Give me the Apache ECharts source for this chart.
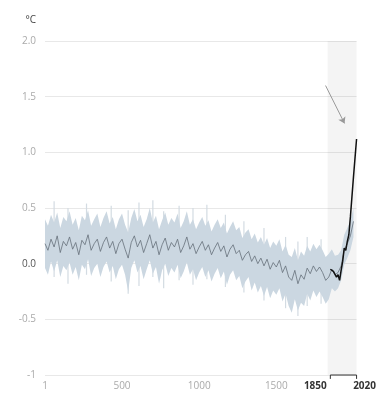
<!DOCTYPE html>
<html><head><meta charset="utf-8">
<script src="https://cdn.jsdelivr.net/npm/echarts@6/dist/echarts.min.js"></script>
<style>html,body{margin:0;padding:0;background:#fff}#c{width:379px;height:397px}</style>
</head><body><div id="c"></div>
<script>
var reconYears = [1,20,40,60,80,100,120,140,160,180,200,220,240,260,280,300,320,340,360,380,400,420,440,460,480,500,520,540,560,580,600,620,640,660,680,700,720,740,760,780,800,820,840,860,880,900,920,940,960,980,1000,1020,1040,1060,1080,1100,1120,1140,1160,1180,1200,1220,1240,1260,1280,1300,1320,1340,1360,1380,1400,1420,1440,1460,1480,1500,1520,1540,1560,1580,1600,1620,1640,1660,1680,1700,1720,1740,1760,1780,1800,1820,1840,1860,1880,1900,1920,1940,1960,1980,2000];
var reconMean = [0.18,0.12,0.22,0.15,0.25,0.10,0.20,0.16,0.24,0.13,0.19,0.08,0.21,0.17,0.26,0.12,0.18,0.22,0.11,0.19,0.24,0.14,0.20,0.09,0.18,0.22,0.13,0.05,0.19,0.25,0.15,0.21,0.10,0.18,0.26,0.14,0.20,0.08,0.17,0.23,0.12,0.19,0.15,0.22,0.10,0.16,0.24,0.13,0.18,0.09,0.15,0.20,0.12,0.17,0.08,0.14,0.19,0.11,0.16,0.06,0.13,0.17,0.09,0.12,0.03,0.08,0.11,0.02,0.07,0.00,0.05,-0.02,0.04,-0.05,0.01,-0.03,0.03,-0.08,-0.02,-0.12,-0.15,-0.06,-0.18,-0.10,-0.14,-0.04,-0.09,-0.02,-0.07,-0.03,-0.08,-0.15,-0.12,-0.05,-0.10,-0.08,-0.02,0.12,0.18,0.25,0.38];
var reconLower = [-0.04,-0.10,0.02,-0.07,0.03,-0.12,-0.02,-0.06,0.01,-0.10,-0.03,-0.15,-0.01,-0.05,0.04,-0.11,-0.04,0.00,-0.12,-0.03,0.02,-0.08,-0.02,-0.14,-0.05,-0.01,-0.10,-0.25,-0.04,0.03,-0.08,-0.02,-0.14,-0.05,0.03,-0.09,-0.03,-0.18,-0.06,0.00,-0.11,-0.04,-0.08,-0.01,-0.13,-0.07,0.01,-0.10,-0.05,-0.15,-0.08,-0.03,-0.12,-0.06,-0.16,-0.09,-0.04,-0.13,-0.07,-0.19,-0.10,-0.06,-0.15,-0.11,-0.22,-0.16,-0.12,-0.24,-0.17,-0.26,-0.20,-0.29,-0.21,-0.31,-0.24,-0.28,-0.22,-0.34,-0.27,-0.38,-0.44,-0.32,-0.42,-0.35,-0.38,-0.27,-0.33,-0.24,-0.30,-0.25,-0.30,-0.36,-0.32,-0.22,-0.25,-0.22,-0.15,-0.01,0.05,0.12,0.24];
var reconUpper = [0.40,0.34,0.44,0.37,0.46,0.32,0.42,0.38,0.47,0.35,0.41,0.30,0.43,0.39,0.48,0.34,0.40,0.45,0.33,0.41,0.47,0.36,0.42,0.31,0.40,0.45,0.35,0.28,0.41,0.49,0.38,0.44,0.33,0.40,0.50,0.37,0.43,0.31,0.39,0.46,0.35,0.41,0.37,0.45,0.32,0.38,0.47,0.35,0.40,0.31,0.37,0.42,0.34,0.39,0.29,0.35,0.40,0.32,0.37,0.27,0.33,0.38,0.30,0.33,0.23,0.28,0.31,0.22,0.27,0.19,0.24,0.17,0.23,0.14,0.20,0.16,0.22,0.11,0.17,0.08,0.06,0.14,0.03,0.11,0.07,0.16,0.11,0.18,0.13,0.17,0.12,0.06,0.09,0.13,0.07,0.08,0.12,0.26,0.32,0.39,0.50];
var spikeYears = [60,150,270,430,540,610,700,770,870,960,1050,1170,1290,1420,1560,1640,1700,1790];
var spikeLow  = [-0.12,-0.18,-0.10,-0.16,-0.27,-0.20,-0.12,-0.22,-0.15,-0.19,-0.14,-0.21,-0.26,-0.33,-0.40,-0.47,-0.38,-0.36];
var spikeHigh = [0.56,0.50,0.54,0.52,0.48,0.55,0.57,0.47,0.52,0.50,0.53,0.44,0.38,0.32,0.24,0.20,0.24,0.22];
var obsYears = [1850,1860,1870,1880,1890,1900,1910,1920,1930,1940,1950,1960,1970,1980,1990,2000,2010,2020];
var obsValues = [-0.05,-0.04,-0.07,-0.08,-0.12,-0.10,-0.15,-0.06,0.02,0.14,0.12,0.20,0.26,0.42,0.60,0.78,0.95,1.12];
var xTickValues = [1,500,1000,1500,1850,2020];
var yTickFormat = {'-1':'-1'};

var bandData = reconYears.map(function(y,i){return [y, reconLower[i], reconUpper[i]];});
var spikeData = spikeYears.map(function(y,i){return [y, spikeLow[i], spikeHigh[i]];});
var meanData = reconYears.map(function(y,i){return [y, reconMean[i]];});
var obsData = obsYears.map(function(y,i){return [y, obsValues[i]];});

function renderBand(params, api){
  if(params.dataIndex !== 0) return null;
  var up = [], lo = [];
  for(var i=0;i<bandData.length;i++){
    up.push(api.coord([bandData[i][0], bandData[i][2]]));
    lo.push(api.coord([bandData[i][0], bandData[i][1]]));
  }
  var pts = up.concat(lo.reverse());
  return {type:'polygon', shape:{points:pts}, style:{fill:'#cbd7e1'}, silent:true};
}
function renderSpike(params, api){
  var a = api.coord([api.value(0), api.value(1)]);
  var b = api.coord([api.value(0), api.value(2)]);
  return {type:'line', shape:{x1:a[0],y1:a[1],x2:b[0],y2:b[1]}, style:{stroke:'#d3dbe2',lineWidth:1.2}, silent:true};
}

var chart = echarts.init(document.getElementById('c'));
chart.setOption({
  animation:false,
  textStyle:{fontFamily:'Open Sans'},
  grid:{left:45,right:21,top:41,bottom:22},
  xAxis:{type:'value',min:1,max:2020,
    axisLine:{show:false},axisTick:{show:false},splitLine:{show:false},
    axisLabel:{customValues:xTickValues,color:'#aaa',fontSize:10,margin:6,
      formatter:function(v){
        if(v===1850) return '{a|1850}';
        if(v===2020) return '{b|2020}';
        return String(v);
      },
      rich:{
        a:{fontWeight:'bold',color:'#333',fontSize:10,padding:[0,30,0,0]},
        b:{fontWeight:'bold',color:'#333',fontSize:10,padding:[0,0,0,16]}
      }
    }
  },
  yAxis:{type:'value',min:-1,max:2,interval:0.5,
    name:'°C',nameLocation:'end',nameGap:16,
    nameTextStyle:{color:'#444',fontSize:10,align:'right',padding:[0,9,0,0]},
    axisLine:{show:false},axisTick:{show:false},
    splitLine:{lineStyle:{color:'#e8e8e8',width:1}},
    axisLabel:{color:'#aaa',fontSize:10,margin:9,
      formatter:function(v){
        if(yTickFormat[String(v)]) return yTickFormat[String(v)];
        if(v===0) return '{z|0.0}';
        return v.toFixed(1);
      },
      rich:{z:{color:'#555',fontSize:10}}
    }
  },
  series:[
    {type:'custom',name:'spikes',data:spikeData,renderItem:renderSpike,clip:true,silent:true,encode:{x:0,y:[1,2]},
      markArea:{silent:true,itemStyle:{color:'rgba(0,0,0,0.045)'},data:[[{xAxis:1832},{xAxis:2020}]]}
    },
    {type:'custom',name:'band',data:bandData,renderItem:renderBand,clip:true,silent:true,encode:{x:0,y:[1,2]}},
    {type:'line',name:'mean',data:meanData,symbol:'none',lineStyle:{color:'#66707a',width:0.8},silent:true},
    {type:'line',name:'obs',data:obsData,symbol:'none',lineStyle:{color:'#111',width:1.5},silent:true,
      markLine:{silent:true,symbol:['none','arrow'],symbolSize:6,label:{show:false},
        lineStyle:{color:'#999',width:1,type:'solid'},
        data:[[{coord:[1819,1.6]},{coord:[1942,1.26]}]]}
    },
    {type:'line',name:'bracket',data:[[1850,-1.035],[1850,-1],[2020,-1],[2020,-1.035]],clip:false,symbol:'none',
      lineStyle:{color:'#333',width:1},silent:true}
  ]
});
</script></body></html>
